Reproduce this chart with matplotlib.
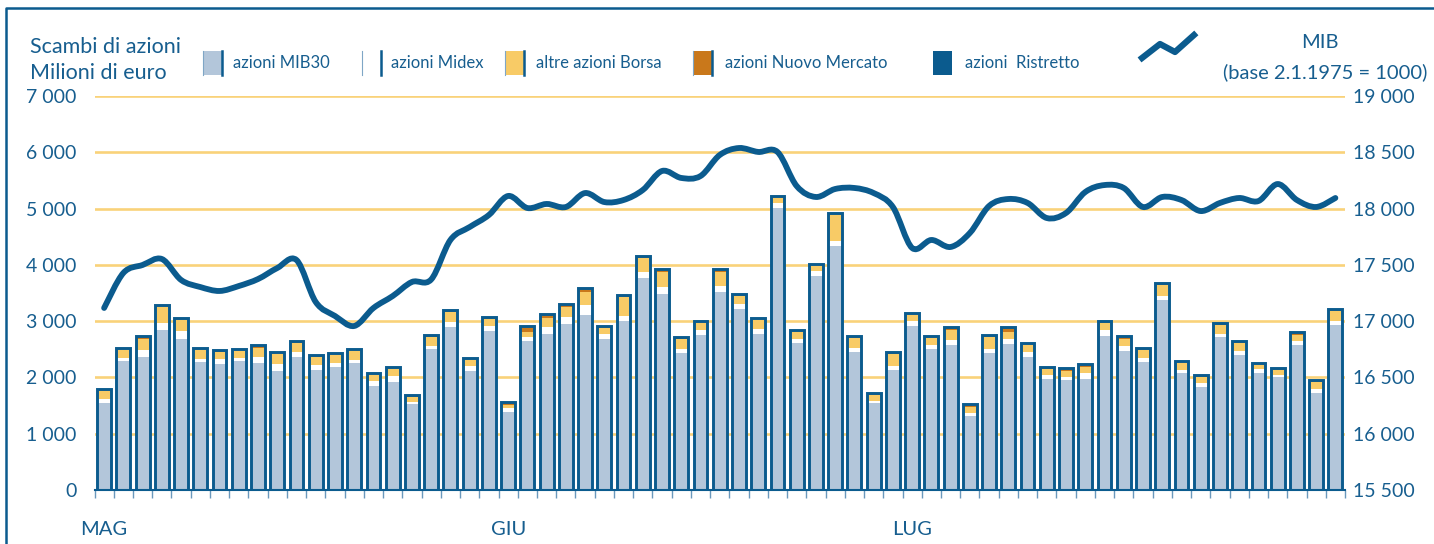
import numpy as np
import matplotlib.pyplot as plt
from matplotlib.patches import Rectangle, PathPatch
from matplotlib.lines import Line2D
from matplotlib.path import Path

# Scambi giornalieri (milioni di euro), maggio-luglio
mib30 = [1550, 2290, 2370, 2840, 2680, 2270, 2240, 2300, 2260, 2120,
         2360, 2130, 2180, 2250, 1850, 1920, 1520, 2510, 2900, 2110,
         2820, 1390, 2650, 2780, 2950, 3110, 2690, 3010, 3760, 3490,
         2430, 2760, 3520, 3210, 2780, 5010, 2620, 3810, 4340, 2460,
         1540, 2130, 2920, 2510, 2580, 1320, 2430, 2600, 2370, 1970,
         1960, 1980, 2740, 2470, 2280, 3380, 2070, 1830, 2710, 2390,
         2080, 2000, 2580, 1730, 2940]
midex = [70, 60, 110, 120, 150, 60, 90, 50, 110, 120,
         100, 90, 80, 60, 80, 100, 40, 50, 90, 100,
         90, 70, 70, 110, 130, 180, 80, 90, 110, 120,
         80, 80, 110, 90, 80, 90, 70, 80, 90, 70,
         50, 80, 90, 70, 80, 50, 80, 90, 80, 70,
         50, 90, 110, 90, 70, 60, 60, 70, 70, 80,
         70, 50, 70, 70, 70]
altre = [150, 150, 210, 310, 210, 170, 130, 140, 160, 200,
         160, 150, 150, 170, 130, 150, 100, 160, 170, 120,
         120, 50, 90, 170, 170, 230, 100, 330, 250, 270,
         170, 150, 250, 150, 180, 110, 130, 110, 470, 170,
         100, 210, 120, 130, 180, 100, 210, 120, 140, 110,
         110, 120, 120, 130, 130, 210, 140, 110, 160, 140,
         90, 90, 110, 120, 170]
nuovo = [25, 15, 35, 15, 15, 15, 15, 15, 35, 15,
         15, 15, 15, 15, 15, 15, 15, 35, 25, 15,
         45, 45, 100, 55, 45, 55, 45, 25, 25, 45,
         25, 15, 45, 35, 15, 15, 15, 15, 15, 25,
         25, 25, 15, 15, 45, 55, 35, 75, 25, 25,
         45, 35, 35, 35, 35, 15, 15, 25, 15, 25,
         15, 15, 35, 25, 35]
ristretto = [5, 5, 5, 5, 5, 5, 5, 5, 5, 5,
             5, 5, 5, 5, 5, 5, 5, 5, 5, 5,
             5, 5, 10, 5, 5, 5, 5, 5, 5, 5,
             5, 5, 5, 5, 5, 5, 5, 5, 5, 5,
             5, 5, 5, 5, 5, 10, 5, 5, 5, 5,
             5, 5, 5, 5, 5, 5, 5, 5, 5, 5,
             5, 5, 5, 5, 5]

# Indice MIB (base 2.1.1975 = 1000)
mib = [17117, 17428, 17499, 17552, 17366, 17303, 17268, 17312, 17374, 17472,
       17543, 17170, 17046, 16957, 17117, 17223, 17348, 17370, 17721, 17836,
       17943, 18112, 18005, 18041, 18014, 18138, 18058, 18076, 18165, 18334,
       18272, 18289, 18476, 18538, 18503, 18503, 18200, 18103, 18174, 18183,
       18138, 18014, 17650, 17721, 17659, 17783, 18023, 18085, 18050, 17916,
       17961, 18147, 18209, 18183, 18014, 18103, 18076, 17978, 18050, 18094,
       18067, 18218, 18076, 18014, 18094]

mesi = ['MAG', 'GIU', 'LUG']
pos_mesi = [0, 21, 42]

blu = '#0B5B8E'
azzurro = '#B3C6DA'
giallo = '#F8CB66'
arancio = '#C9781B'
griglia = '#F9D27A'
testo = '#175E8F'

plt.rcParams['font.family'] = ['Lato', 'DejaVu Sans']

fig = plt.figure(figsize=(14.34, 5.44), dpi=100)
ax = fig.add_axes([94.5 / 1434, 54 / 544, 1250.5 / 1434, 394 / 544])

x = np.arange(len(mib30))
w = 0.72
b = np.zeros(len(x))
for serie, col in [(mib30, azzurro), (midex, 'white'), (altre, giallo),
                   (nuovo, arancio), (ristretto, blu)]:
    ax.bar(x, serie, w, bottom=b, color=col, edgecolor='none', zorder=2)
    b = b + np.array(serie)
ax.bar(x, b, w, fill=False, edgecolor=blu, linewidth=2.1, zorder=3)

ax.set_xlim(-0.5, len(x) - 0.5)
ax.set_ylim(0, 7000)
ax.set_yticks(range(0, 7001, 1000))
ax.set_yticklabels([f'{v:,}'.replace(',', ' ') for v in range(0, 7001, 1000)])
ax.yaxis.grid(True, color=griglia, linewidth=1.9)
ax.set_axisbelow(True)
ax.tick_params(axis='y', length=0, pad=13, labelsize=14, labelcolor=testo)

ax.set_xticks(pos_mesi)
ax.set_xticklabels(mesi)
ax.set_xticks(np.arange(-0.5, len(x)), minor=True)
ax.tick_params(axis='x', which='major', length=0, pad=22, labelsize=14.5,
               labelcolor=testo)
ax.tick_params(axis='x', which='minor', length=6, width=1, color='#6A98BC',
               direction='out')
for s in ['top', 'right', 'left']:
    ax.spines[s].set_visible(False)
ax.spines['bottom'].set_color(blu)
ax.spines['bottom'].set_linewidth(1.5)
ax.spines['bottom'].set_zorder(4)

# linea MIB smussata (curve di Bezier tra i punti giornalieri)
ax2 = ax.twinx()
px = x.astype(float)
py = np.array(mib, dtype=float)
verts = [(px[0], py[0])]
codes = [Path.MOVETO]
n = len(px)
for i in range(n - 1):
    p0 = (px[max(i - 1, 0)], py[max(i - 1, 0)])
    p1 = (px[i], py[i])
    p2 = (px[i + 1], py[i + 1])
    p3 = (px[min(i + 2, n - 1)], py[min(i + 2, n - 1)])
    c1 = (p1[0] + (p2[0] - p0[0]) / 6, p1[1] + (p2[1] - p0[1]) / 6)
    c2 = (p2[0] - (p3[0] - p1[0]) / 6, p2[1] - (p3[1] - p1[1]) / 6)
    verts += [c1, c2, p2]
    codes += [Path.CURVE4] * 3
ax2.add_patch(PathPatch(Path(verts, codes), facecolor='none', edgecolor=blu,
                        linewidth=4.2, capstyle='round', joinstyle='round',
                        zorder=5))
ax2.set_ylim(15500, 19000)
ax2.set_yticks(range(15500, 19001, 500))
ax2.set_yticklabels([f'{v:,}'.replace(',', ' ') for v in range(15500, 19001, 500)])
ax2.tick_params(axis='y', length=0, pad=6, labelsize=14, labelcolor=testo)
for s in ax2.spines.values():
    s.set_visible(False)

# titolo a sinistra
fig.text(30 / 1434, 1 - 47 / 544, 'Scambi di azioni', fontsize=15.5,
         color=testo, va='center', ha='left')
fig.text(30 / 1434, 1 - 73 / 544, 'Milioni di euro', fontsize=15.5,
         color=testo, va='center', ha='left')

# legenda
voci = [('azioni MIB30', azzurro, 203, 233),
        ('azioni Midex', 'white', 362, 391),
        ('altre azioni Borsa', giallo, 505, 536),
        ('azioni Nuovo Mercato', arancio, 693, 725),
        ('azioni  Ristretto', blu, 933, 965)]
for nome, col, lx, tx in voci:
    fig.patches.append(Rectangle((lx / 1434, 1 - 75 / 544), 19 / 1434, 24 / 544,
                                 facecolor=col, edgecolor='none',
                                 transform=fig.transFigure))
    if col != blu:
        fig.lines.append(Line2D([(lx + 19) / 1434] * 2,
                                [1 - 75 / 544, 1 - 51 / 544],
                                color=blu, linewidth=1.8,
                                transform=fig.transFigure))
        fig.lines.append(Line2D([lx / 1434] * 2,
                                [1 - 75 / 544, 1 - 51 / 544],
                                color='#7FA6C6', linewidth=0.8,
                                transform=fig.transFigure))
    fig.text(tx / 1434, 1 - 63 / 544, nome, fontsize=12, color=testo,
             va='center', ha='left')

fig.lines.append(Line2D([1142 / 1434, 1160 / 1434, 1175 / 1434, 1194 / 1434],
                        [1 - 58 / 544, 1 - 44 / 544, 1 - 52 / 544, 1 - 35 / 544],
                        color=blu, linewidth=4.5, transform=fig.transFigure))
fig.text(1320 / 1434, 1 - 42 / 544, 'MIB', fontsize=14.5, color=testo,
         va='center', ha='center')
fig.text(1427 / 1434, 1 - 72 / 544, '(base 2.1.1975 = 1000)', fontsize=14.5,
         color=testo, va='center', ha='right')

# cornice
fig.lines.append(Line2D([6 / 1434, 6 / 1434, 1], [0, 1 - 8 / 544, 1 - 8 / 544],
                        color=blu, linewidth=1.8, transform=fig.transFigure))

fig.savefig('out.png', dpi=100)
